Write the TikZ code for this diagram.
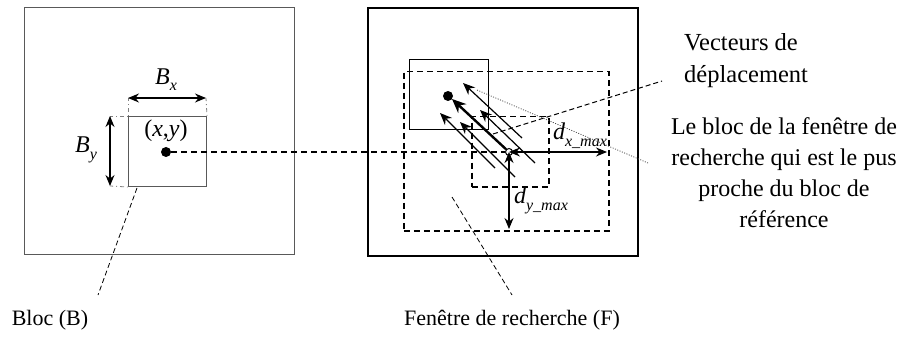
\documentclass[tikz,border=0pt]{standalone}
\usepackage{fontspec}
\setmainfont{Liberation Serif}
\usetikzlibrary{arrows.meta}
\begin{document}
\begin{tikzpicture}[x=1pt,y=-1pt,
  framebox/.style={draw=#1, inner sep=0pt, anchor=north west},
  thindash/.style={draw=black, line width=0.8pt, dash pattern=on 5pt off 3pt},
  thickdash/.style={draw=black, line width=1.5pt, dash pattern=on 6pt off 4pt},
  tick/.style={draw=gray, line width=0.8pt, dash pattern=on 1pt off 3pt on 4pt off 3pt},
  dimarrow/.style={line width=1.1pt, {Stealth[length=11pt,width=9pt]}-{Stealth[length=11pt,width=9pt]}},
  vec/.style={line width=1.2pt, -{Stealth[length=12pt,width=10pt]}},
  bigvec/.style={line width=2.4pt, -{Stealth[length=14pt,width=12pt]}},
  lbl/.style={font=\fontsize{22}{30}\selectfont, inner sep=0pt},
  mlbl/.style={font=\fontsize{24}{30}\selectfont\itshape, inner sep=0pt},
  dot/.style={circle, fill=black, inner sep=0pt, minimum size=10pt},
  odot/.style={circle, draw=black, fill=white, line width=1pt, inner sep=0pt, minimum size=7pt}
]
\useasboundingbox (0,0) rectangle (901,339);

% ----- left frame and reference block
\node[framebox=gray!70!black, line width=1pt, minimum width=270pt, minimum height=247pt] (L) at (24,7) {};
\node[framebox=gray!70!black, line width=1pt, minimum width=78pt, minimum height=70pt] (B) at (128,116) {};
\node[dot] (p) at (166,152) {};

% dimension B_x
\coordinate (bx1) at (128,98);
\coordinate (bx2) at (206,98);
\draw[tick] (B.north west) -- (bx1);
\draw[tick] (B.north east) -- (bx2);
\draw[dimarrow] (bx1) -- (bx2);
\node[mlbl] (Bx) at (166,80) {B\raisebox{-0.25em}{\fontsize{16}{16}\selectfont x}};

% dimension B_y
\coordinate (by1) at (110,116);
\coordinate (by2) at (110,186);
\draw[tick] (B.north west) -- (by1);
\draw[tick] (B.south west) -- (by2);
\draw[dimarrow] (by1) -- (by2);
\node[mlbl] (By) at (86,150) {B\raisebox{-0.3em}{\fontsize{16}{16}\selectfont y}};

\node[lbl, font=\fontsize{24}{30}\selectfont] (xy) at (166,131) {(\textit{x},\textit{y})};

% ----- right frame
\node[framebox=black, line width=1.6pt, minimum width=270pt, minimum height=248pt] (R) at (367,7) {};
\node[framebox=black, thickdash, minimum width=205pt, minimum height=159pt] (F) at (403,71) {};
\node[framebox=black, line width=1pt, minimum width=79pt, minimum height=70pt] (M) at (409,59) {};
\node[framebox=black, thickdash, minimum width=77pt, minimum height=70pt] (S) at (471,116) {};
\node[odot] (c) at (509,152) {};
\node[dot] (q) at (448,96) {};

% horizontal dashed link
\draw[thickdash] (p) -- (c);

% search range arrows
\coordinate (cc) at (509,152);
\coordinate (dxend) at (607,152);
\coordinate (dyend) at (509,229);
\draw[dimarrow] (cc) -- (dxend);
\draw[dimarrow] (cc) -- (dyend);
\node[mlbl] (dx) at (580,136) {d\raisebox{-0.3em}{\fontsize{16}{16}\selectfont x\_max}};
\node[mlbl] (dy) at (541,200) {d\raisebox{-0.3em}{\fontsize{16}{16}\selectfont y\_max}};

% motion vectors
\coordinate (a1) at (522,138); \coordinate (a2) at (463,83);
\coordinate (b1) at (535,163); \coordinate (b2) at (480,110);
\coordinate (c1) at (495,168); \coordinate (c2) at (440,113);
\coordinate (d1) at (515,177); \coordinate (d2) at (460,122);
\coordinate (e2) at (452,99);
\draw[vec] (a1) -- (a2);
\draw[vec] (b1) -- (b2);
\draw[vec] (c1) -- (c2);
\draw[vec] (d1) -- (d2);
\draw[bigvec] (c) -- (e2);

% ----- texts and leaders
\node[lbl] (bloc) at (50,320) {Bloc (B)};
\node[lbl] (fen) at (512,320) {Fenêtre de recherche (F)};
\node[lbl, anchor=west, align=left, font=\fontsize{24.5}{32}\selectfont] (vect) at (684,61) {Vecteurs de\\déplacement};
\node[lbl, align=center, font=\fontsize{24}{31}\selectfont] (lebloc) at (784,173) {Le bloc de la fenêtre de\\recherche qui est le pus\\proche du bloc de\\référence};

\coordinate (lb1) at (137,188); \coordinate (lb2) at (98,295);
\draw[thindash] (lb1) -- (lb2);
\coordinate (lf1) at (452,197); \coordinate (lf2) at (512,295);
\draw[thindash] (lf1) -- (lf2);
\coordinate (lv1) at (493,134); \coordinate (lv2) at (662,81);
\draw[thindash, line width=1pt] (lv1) -- (lv2);
\coordinate (ld1) at (477,90); \coordinate (ld2) at (648,163);
\draw[draw=gray!60!black, line width=0.8pt, dash pattern=on 1pt off 1.5pt] (ld1) -- (ld2);
\end{tikzpicture}
\end{document}
